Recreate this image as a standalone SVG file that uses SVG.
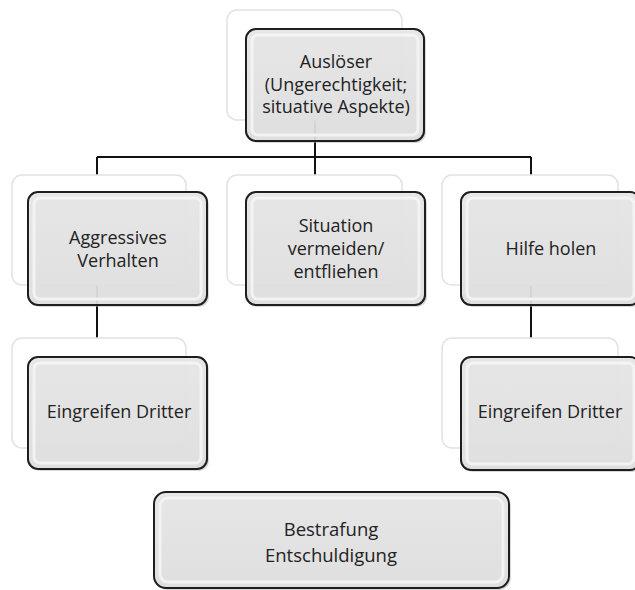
<svg xmlns="http://www.w3.org/2000/svg" width="635" height="590" viewBox="0 0 635 590">
<style>
.back{fill:#ffffff;stroke:#e2e2e2;stroke-width:1.5}
.front{fill:url(#fg);fill-opacity:0.9;stroke:#1e1e1e;stroke-width:2}
.bevel{fill:none;stroke:#f6f6f6;stroke-width:3;stroke-opacity:0.85}
.sh{fill:#b0b0b0;opacity:0.5}
.conn{fill:none;stroke:#111111;stroke-width:2}
text{font-family:"Open Sans","Noto Sans","Liberation Sans",sans-serif;font-size:18px;fill:#222222;text-anchor:middle}
</style>
<defs>
<linearGradient id="fg" x1="0" y1="0" x2="0" y2="1">
<stop offset="0" stop-color="#e8e8e8"/>
<stop offset="1" stop-color="#e0e0e0"/>
</linearGradient>
</defs>
<g id="connectors">
<path class="conn" d="M315,120 V157 M97,157 H531 M97,157 V175 M315,157 V175 M531,157 V175"/>
<path class="conn" d="M97,285 V338 M531,285 V338"/>
</g>
<g id="n-ausloeser">
<rect class="back" x="227" y="10" width="175" height="110" rx="10"/>
<rect class="sh" x="248" y="31" width="178" height="112" rx="10"/>
<rect class="front" x="246" y="29" width="178" height="112" rx="10"/>
<rect class="bevel" x="252" y="35" width="166" height="100" rx="6"/>
<text x="336" y="68">Auslöser</text>
<text x="336" y="90.5">(Ungerechtigkeit;</text>
<text x="336" y="113">situative Aspekte)</text>
</g>
<g id="n-aggressiv">
<rect class="back" x="12" y="175" width="174" height="110" rx="10"/>
<rect class="sh" x="30" y="194" width="179" height="113" rx="10"/>
<rect class="front" x="28" y="192" width="179" height="113" rx="10"/>
<rect class="bevel" x="34" y="198" width="167" height="101" rx="6"/>
<text x="118" y="244">Aggressives</text>
<text x="118" y="267">Verhalten</text>
</g>
<g id="n-vermeiden">
<rect class="back" x="227" y="175" width="175" height="110" rx="10"/>
<rect class="sh" x="248" y="194" width="179" height="113" rx="10"/>
<rect class="front" x="246" y="192" width="179" height="113" rx="10"/>
<rect class="bevel" x="252" y="198" width="167" height="101" rx="6"/>
<text x="336" y="232">Situation</text>
<text x="336" y="255">vermeiden/</text>
<text x="336" y="278">entfliehen</text>
</g>
<g id="n-hilfe">
<rect class="back" x="442" y="175" width="176" height="110" rx="10"/>
<rect class="sh" x="463" y="194" width="179" height="113" rx="10"/>
<rect class="front" x="461" y="192" width="179" height="113" rx="10"/>
<rect class="bevel" x="467" y="198" width="167" height="101" rx="6"/>
<text x="551" y="255">Hilfe holen</text>
</g>
<g id="n-dritter-links">
<rect class="back" x="12" y="338" width="174" height="110" rx="10"/>
<rect class="sh" x="30" y="359" width="179" height="112" rx="10"/>
<rect class="front" x="28" y="357" width="179" height="112" rx="10"/>
<rect class="bevel" x="34" y="363" width="167" height="100" rx="6"/>
<text x="119" y="418">Eingreifen Dritter</text>
</g>
<g id="n-dritter-rechts">
<rect class="back" x="442" y="338" width="176" height="110" rx="10"/>
<rect class="sh" x="463" y="359" width="179" height="113" rx="10"/>
<rect class="front" x="461" y="357" width="179" height="113" rx="10"/>
<rect class="bevel" x="467" y="363" width="167" height="101" rx="6"/>
<text x="550" y="418">Eingreifen Dritter</text>
</g>
<g id="n-bestrafung">
<rect class="sh" x="156" y="494" width="355" height="96" rx="12"/>
<rect class="front" x="154" y="492" width="355" height="96" rx="12"/>
<rect class="bevel" x="160" y="498" width="343" height="84" rx="8"/>
<text x="331" y="536" style="font-size:18.5px">Bestrafung</text>
<text x="331" y="562" style="font-size:18.5px">Entschuldigung</text>
</g>
</svg>
